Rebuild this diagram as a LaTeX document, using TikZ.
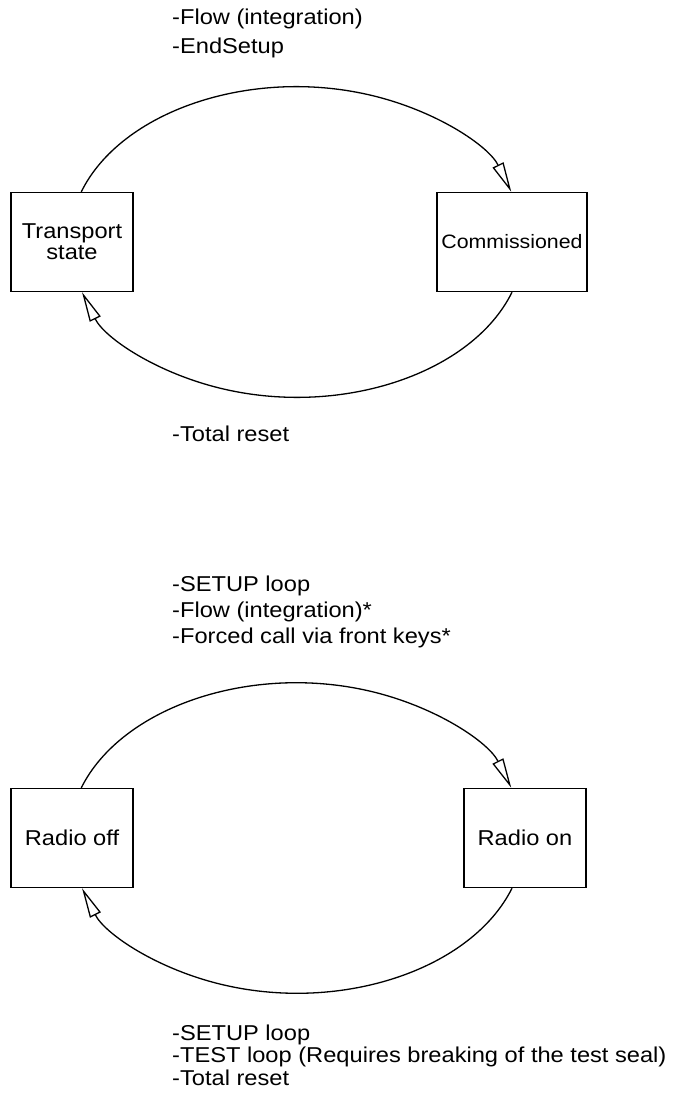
\documentclass[tikz,border=0pt]{standalone}
\usepackage{fontspec}
\setmainfont{Liberation Sans}[FakeStretch=1.1]
\usetikzlibrary{arrows.meta}
\begin{document}
\begin{tikzpicture}[x=1pt,y=1pt,
  state/.style={draw, line width=1.4pt, inner sep=0pt, minimum height=99pt,
    font=\fontsize{21.5}{21}\selectfont, align=center},
  lbl/.style={anchor=base west, inner sep=0pt},
  flow/.style={line width=1.3pt,
    -{Triangle[open, length=30pt, width=12pt, line width=1.3pt]}}]
\useasboundingbox (0,0) rectangle (678,-1097);
% --- first diagram ---
\node[state, minimum width=122pt] (T) at (72,-242) {Transport\\state};
\node[state, minimum width=150pt] (C) at (512,-242) {\fontsize{19.4}{19}\selectfont Commissioned};
\draw[flow] ([xshift=71pt]T.north west) arc[start angle=161.5, end angle=18.5, x radius=226.7pt, y radius=154pt];
\draw[flow] (C.south) arc[start angle=-18.5, end angle=-161.5, x radius=226.7pt, y radius=154pt];
\node[lbl] (L1) at (172,-25) {\fontsize{21.5}{29}\selectfont\begin{tabular}[t]{@{}l@{}}-Flow (integration)\\-EndSetup\end{tabular}};
\node[lbl] (L2) at (172,-441) {\fontsize{21.5}{26}\selectfont -Total reset};
% --- second diagram ---
\node[state, minimum width=122pt] (R1) at (72,-838) {Radio off};
\node[state, minimum width=122pt] (R2) at (525,-838) {Radio on};
\draw[flow] ([xshift=71pt]R1.north west) arc[start angle=161.2, end angle=18.8, x radius=227.1pt, y radius=155pt];
\draw[flow] ([xshift=-13pt]R2.south) arc[start angle=-18.8, end angle=-161.2, x radius=227.1pt, y radius=155pt];
\node[lbl] (L3) at (172,-591) {\fontsize{21.5}{26}\selectfont\begin{tabular}[t]{@{}l@{}}-SETUP loop\\-Flow (integration)*\\-Forced call via front keys*\end{tabular}};
\node[lbl] (L4) at (172,-1040) {\fontsize{21.5}{22.5}\selectfont\begin{tabular}[t]{@{}l@{}}-SETUP loop\\-TEST loop (Requires breaking of the test seal)\\-Total reset\end{tabular}};
\end{tikzpicture}
\end{document}
